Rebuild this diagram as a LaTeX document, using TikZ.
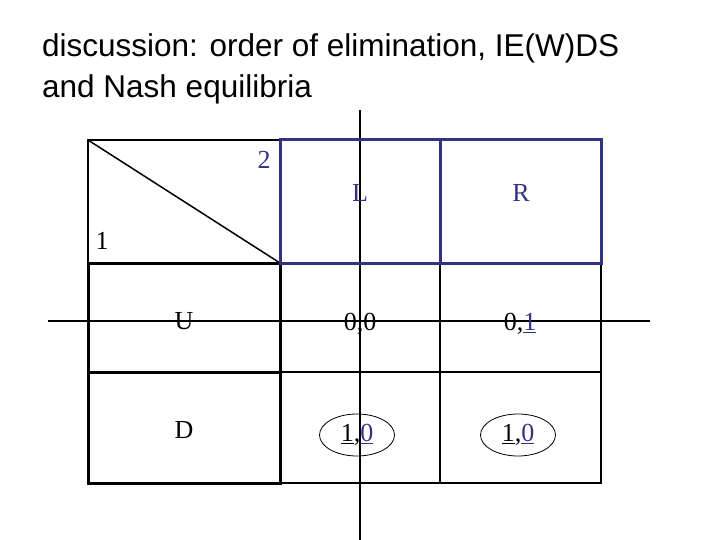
\documentclass[tikz,border=0pt]{standalone}
\usepackage{fontspec}
\usetikzlibrary{shapes.geometric}
\setmainfont{Liberation Serif}
\newfontfamily\titlefont{Liberation Sans}
\definecolor{navy}{RGB}{50,50,130}
\begin{document}
\begin{tikzpicture}[x=1pt,y=-1pt,
  cell/.style={font=\fontsize{26}{30}\selectfont},
  thin/.style={line width=1.5pt},
  thick2/.style={line width=3pt}]
\useasboundingbox (0,0) rectangle (720,540);
\node[anchor=north west,align=left,inner sep=0pt,font=\titlefont\fontsize{31.5}{41}\selectfont] (title) at (42,33) {discussion: order of elimination, IE(W)DS\\and Nash equilibria};
% axes
\draw[thin] (360,110) -- (360,540);
\draw[thin] (48,321) -- (650,321);
% payoff cells
\draw[thin] (280,263) rectangle (601,483);
\draw[thin] (280,372) -- (601,372);
\draw[thin] (440,263) -- (440,483);
% player 1 column
\draw[thick2] (88,263) rectangle (280,372);
\draw[thick2] (88,372) rectangle (280,483);
% header
\draw[thin] (88,263) -- (88,140) -- (280,140);
\draw[thin] (88,140) -- (280,263);
\draw[navy,thick2] (280,140) rectangle (601,263);
\draw[navy,thick2] (440,140) -- (440,263);
\node[cell,navy] (p2) at (264,160) {2};
\node[cell] (p1) at (102,241) {1};
\node[cell,navy] (L) at (360,193) {L};
\node[cell,navy] (R) at (521,193) {R};
\node[cell] (U) at (184,321) {U};
\node[cell] (D) at (184,430) {D};
\node[cell] (a) at (360,324) {0,0};
\node[cell] (b) at (520,324) {0,\textcolor{navy}{\underline{1}}};
\node[cell,draw,line width=0.8pt,ellipse,inner sep=0pt,minimum width=75pt,minimum height=42pt] (c) at (357,435) {\underline{1},\textcolor{navy}{\underline{0}}};
\node[cell,draw,line width=0.8pt,ellipse,inner sep=0pt,minimum width=75pt,minimum height=42pt] (d) at (518,435) {\underline{1},\textcolor{navy}{\underline{0}}};
\end{tikzpicture}
\end{document}
